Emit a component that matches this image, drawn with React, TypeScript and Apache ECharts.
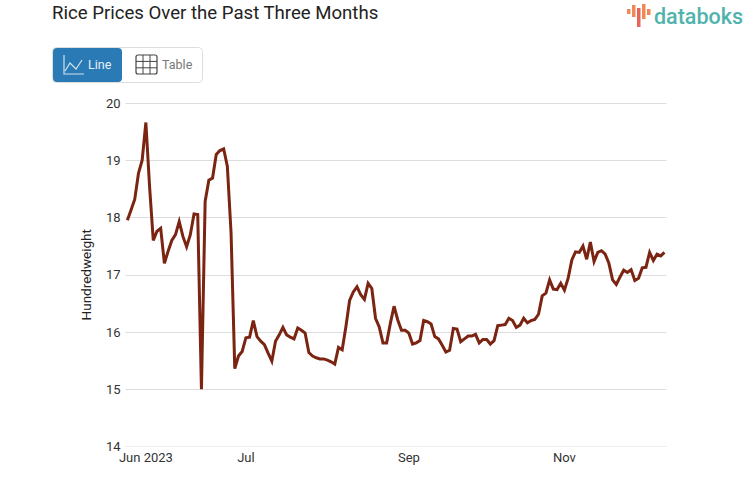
import React, { useEffect, useRef } from "react";
import * as echarts from "echarts";

const titleText = "Rice Prices Over the Past Three Months";
const yAxisName = "Hundredweight";
const tickLabels = ["Jun 2023", "Jul", "Sep", "Nov"];
const tickIndexes = [5, 32, 76, 118];
const juneJuly = [17.95, 18.13, 18.32, 18.77, 19.0, 19.66, 18.54, 17.6, 17.76, 17.81, 17.2, 17.41, 17.6, 17.7, 17.93, 17.67, 17.49, 17.7, 18.06, 18.05, 15.0, 18.28, 18.65, 18.69, 19.1, 19.17, 19.2, 18.89, 17.73, 15.36, 15.58, 15.66, 15.9, 15.91, 16.2, 15.92, 15.84, 15.78, 15.63, 15.49, 15.84, 15.95, 16.08, 15.95, 15.91, 15.88, 16.07, 16.03];
const augSep = [15.98, 15.64, 15.58, 15.55, 15.53, 15.53, 15.51, 15.48, 15.44, 15.73, 15.69, 16.09, 16.55, 16.7, 16.79, 16.65, 16.57, 16.85, 16.76, 16.24, 16.09, 15.81, 15.81, 16.15, 16.45, 16.21, 16.03, 16.03, 15.98, 15.79, 15.81, 15.85, 16.2, 16.18, 16.14, 15.92, 15.88, 15.77, 15.65, 15.68, 16.06, 16.05, 15.83, 15.88, 15.93, 15.93, 15.96, 15.81];
const octDec = [15.87, 15.87, 15.79, 15.85, 16.11, 16.12, 16.13, 16.24, 16.2, 16.08, 16.12, 16.24, 16.16, 16.2, 16.22, 16.31, 16.63, 16.68, 16.91, 16.75, 16.74, 16.85, 16.73, 16.94, 17.26, 17.4, 17.39, 17.5, 17.27, 17.57, 17.23, 17.39, 17.42, 17.36, 17.2, 16.91, 16.83, 16.96, 17.08, 17.04, 17.09, 16.9, 16.94, 17.12, 17.13, 17.39, 17.25, 17.36, 17.33, 17.39];
const prices = [...juneJuly, ...augSep, ...octDec];
const categories = prices.map((_, i) => {
  const t = tickIndexes.indexOf(i);
  return t >= 0 ? tickLabels[t] : String(i);
});

const FONT = "Roboto";

function logoBars() {
  const bars = [
    { x: 627, y: 9, h: 5, c: "#ee8a55" },
    { x: 632, y: 5, h: 12, c: "#ee8a55" },
    { x: 637, y: 8, h: 19, c: "#e8645a" },
    { x: 642, y: 4, h: 15, c: "#ee8a55" },
    { x: 647, y: 9, h: 6, c: "#ee8a55" },
  ];
  return bars.map((b) => ({
    type: "rect",
    shape: { x: b.x, y: b.y, width: 3.5, height: b.h },
    style: { fill: b.c },
  }));
}

function buttons() {
  const gridLines: any[] = [];
  for (let i = 1; i < 3; i++) {
    gridLines.push({ type: "line", shape: { x1: 136 + i * 7, y1: 55, x2: 136 + i * 7, y2: 74 }, style: { stroke: "#444", lineWidth: 1 } });
  }
  for (let i = 1; i < 3; i++) {
    gridLines.push({ type: "line", shape: { x1: 136, y1: 55 + i * 6.4, x2: 157, y2: 55 + i * 6.4 }, style: { stroke: "#444", lineWidth: 1 } });
  }
  return [
    { type: "rect", shape: { x: 52.5, y: 47.5, width: 150, height: 35, r: 4 }, style: { fill: "#fff", stroke: "#ddd", lineWidth: 1 } },
    { type: "rect", shape: { x: 53, y: 48, width: 69, height: 34, r: 4 }, style: { fill: "#2a7ab5" } },
    { type: "polyline", shape: { points: [[64, 55], [64, 74], [84, 74]] }, style: { stroke: "#cfe2f0", lineWidth: 1.2, fill: "none" } },
    { type: "polyline", shape: { points: [[65, 71], [70, 63], [76, 69], [82, 60]] }, style: { stroke: "#cfe2f0", lineWidth: 1.2, fill: "none" } },
    { type: "text", x: 88, y: 64.5, style: { text: "Line", font: `12.5px ${FONT}`, fill: "#e8f1f8", textVerticalAlign: "middle" } },
    { type: "rect", shape: { x: 136, y: 55, width: 21, height: 19, r: 2 }, style: { fill: "none", stroke: "#444", lineWidth: 1.2 } },
    ...gridLines,
    { type: "text", x: 162, y: 64.5, style: { text: "Table", font: `12.5px ${FONT}`, fill: "#777", textVerticalAlign: "middle" } },
  ];
}

export default function App() {
  const ref = useRef<HTMLDivElement>(null);
  useEffect(() => {
    const chart = echarts.init(ref.current!, null, { renderer: "svg" });
    chart.setOption({
      animation: false,
      backgroundColor: "#fff",
      title: {
        text: titleText,
        left: 47,
        top: -2,
        textStyle: { fontFamily: FONT, fontSize: 18.6, fontWeight: 400, color: "#222" },
      },
      grid: { left: 125.5, right: 86.7, top: 103, bottom: 51.5 },
      xAxis: {
        type: "category",
        boundaryGap: true,
        data: categories,
        axisLine: { lineStyle: { color: "#eee", width: 1 } },
        axisTick: { show: false },
        axisLabel: {
          interval: (i: number) => tickIndexes.includes(i),
          fontFamily: FONT,
          fontSize: 13,
          color: "#333",
          margin: 4,
        },
      },
      yAxis: {
        type: "value",
        min: 14,
        max: 20,
        interval: 1,
        name: yAxisName,
        nameLocation: "middle",
        nameGap: 33,
        nameTextStyle: { fontFamily: FONT, fontSize: 13.5, color: "#222" },
        axisLine: { show: false },
        axisTick: { show: false },
        axisLabel: { fontFamily: FONT, fontSize: 13, color: "#333", margin: 5 },
        splitLine: { lineStyle: { color: "#ddd", width: 1 } },
      },
      series: [
        {
          type: "line",
          data: prices,
          showSymbol: false,
          smooth: false,
          lineStyle: { color: "#7b2412", width: 3, join: "miter" },
          itemStyle: { color: "#7b2412" },
        },
      ],
      graphic: [
        ...buttons(),
        ...logoBars(),
        { type: "text", x: 654, y: 16, style: { text: "databoks", font: `500 21.5px ${FONT}`, fill: "#4fb3ac", textVerticalAlign: "middle" } },
      ],
    });
    return () => chart.dispose();
  }, []);
  return <div ref={ref} style={{ position: "absolute", left: 0, top: 0, width: 753, height: 498 }} />;
}
